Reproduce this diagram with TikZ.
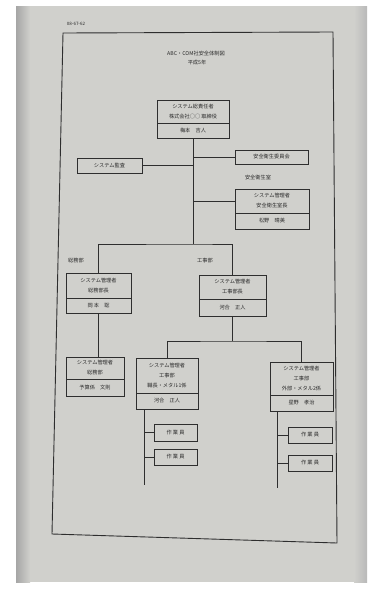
\documentclass[tikz,border=0pt]{standalone}
\usepackage{fontspec}
\setmainfont{Noto Sans CJK JP}
\definecolor{paper}{HTML}{D0D0CC}
\definecolor{linec}{HTML}{2E2E2E}
\definecolor{textc}{HTML}{2A2A2A}
\begin{document}
\begin{tikzpicture}[x=1pt,y=-1pt,
  box/.style={draw=linec, line width=0.8pt, inner sep=0pt, align=center, text=textc,
    font=\fontsize{5.2}{10}\selectfont},
  lbl/.style={inner sep=0pt, text=textc, font=\fontsize{5.2}{10}\selectfont},
  conn/.style={draw=linec, line width=0.8pt}]
\useasboundingbox (0,0) rectangle (378,589);
\fill[white] (0,0) rectangle (378,589);
\fill[paper] (16,6) rectangle (367,582);
\fill[left color=gray!70, right color=paper] (16,6) rectangle (30,582);
\fill[left color=paper, right color=gray!55] (354,6) rectangle (367,582);
% frame
\draw[linec, line width=0.9pt] (63,33) -- (333,32) -- (337,543) -- (52,534) -- cycle;
\node[lbl, font=\fontsize{4.5}{6}\selectfont] (code) at (76,24) {08-67-62};
\node[lbl] (title) at (196,54) {ABC・COM社安全体制図};
\node[lbl] (sub) at (197,63) {平成5年};
% top box
\node[box, minimum width=72pt, minimum height=23pt] (top) at (193,111.5) {システム総責任者\\株式会社○○ 取締役};
\node[box, minimum width=72pt, minimum height=15pt] (topn) at (193,130.5) {梅本　吉人};
% side boxes
\node[box, minimum width=65pt, minimum height=15pt] (kansa) at (109.5,165.5) {システム監査};
\node[box, minimum width=73pt, minimum height=14pt] (comm) at (271.5,157) {安全衛生委員会};
\node[lbl] (safelbl) at (258,178) {安全衛生室};
\node[box, minimum width=74pt, minimum height=24pt] (safe) at (272,201) {システム管理者\\安全衛生室長};
\node[box, minimum width=74pt, minimum height=16pt] (safen) at (272,221) {松野　晴美};
% second level
\node[lbl] (soumulbl) at (76,261) {総務部};
\node[lbl] (koujilbl) at (205,261) {工事部};
\node[box, minimum width=65pt, minimum height=25pt] (lb) at (98.5,285.5) {システム管理者\\総務部長};
\node[box, minimum width=65pt, minimum height=15pt] (lbn) at (98.5,305.5) {岡 本　聡};
\node[box, minimum width=67pt, minimum height=24pt] (rb) at (232.5,287) {システム管理者\\工事部長};
\node[box, minimum width=67pt, minimum height=17pt] (rbn) at (232.5,307.5) {河合　正人};
% third level
\node[box, minimum width=58pt, minimum height=22pt] (llb) at (95,368) {システム管理者\\総務部};
\node[box, minimum width=58pt, minimum height=17pt] (llbn) at (95,387.5) {予算係　文則};
\node[box, minimum width=62pt, minimum height=35pt] (mb) at (167,375.5) {システム管理者\\工事部\\職長・メタル1係};
\node[box, minimum width=62pt, minimum height=16pt] (mbn) at (167,401) {河合　正人};
\node[box, minimum width=63pt, minimum height=33pt] (rb2) at (301.5,378.5) {システム管理者\\工事部\\外部・メタル2係};
\node[box, minimum width=63pt, minimum height=16pt] (rb2n) at (301.5,403) {星野　孝治};
% workers
\node[box, minimum width=43pt, minimum height=17pt] (w1) at (175.5,432.5) {作 業 員};
\node[box, minimum width=43pt, minimum height=16pt] (w2) at (175.5,457) {作 業 員};
\node[box, minimum width=44pt, minimum height=16pt] (w3) at (310,435) {作 業 員};
\node[box, minimum width=44pt, minimum height=16pt] (w4) at (310,463) {作 業 員};
% connectors
\coordinate (br) at (193,244);
\coordinate (br2) at (232.5,341);
\coordinate (mtrunk) at (144,485);
\coordinate (rtrunk) at (277,488);
\draw[conn] (topn.south) -- (br);
\draw[conn] (kansa.east) -- (kansa.east -| topn.south);
\draw[conn] (comm.west -| topn.south) -- (comm.west);
\draw[conn] (safe.west -| topn.south) -- (safe.west);
\draw[conn] (lb.north) |- (br) -| (rb.north);
\draw[conn] (lbn.south) -- (lbn.south |- llb.north);
\draw[conn] (rbn.south) -- (br2);
\draw[conn] (mb.north) |- (br2) -| (rb2.north);
\draw[conn] (mbn.south -| mtrunk) -- (mtrunk);
\draw[conn] (w1.west -| mtrunk) -- (w1.west);
\draw[conn] (w2.west -| mtrunk) -- (w2.west);
\draw[conn] (rb2n.south -| rtrunk) -- (rtrunk);
\draw[conn] (w3.west -| rtrunk) -- (w3.west);
\draw[conn] (w4.west -| rtrunk) -- (w4.west);
\end{tikzpicture}
\end{document}
